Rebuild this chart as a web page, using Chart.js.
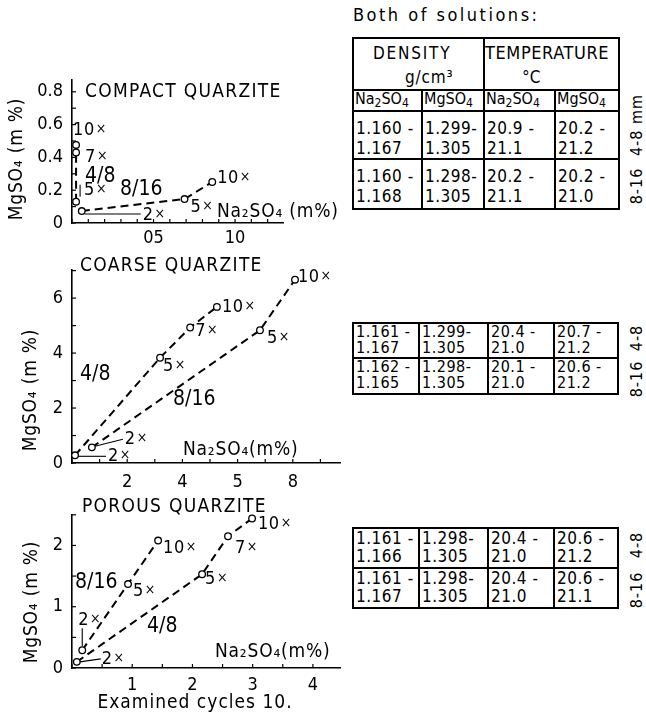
<!DOCTYPE html>
<html><head><meta charset="utf-8">
<script src="https://cdn.jsdelivr.net/npm/chart.js@4.4.1/dist/chart.umd.min.js"></script>
<style>
html,body{margin:0;padding:0;background:#fff;}
#page{position:relative;width:646px;height:724px;overflow:hidden;font-family:'DejaVu Sans Condensed','DejaVu Sans',sans-serif;color:#000;}
canvas{position:absolute;}
.t{position:absolute;white-space:nowrap;font-size:16px;line-height:18px;transform:translateY(-50%);}
.t sub{font-size:0.75em;vertical-align:-0.25em;line-height:0;}
.cell{position:absolute;border:2px solid #000;box-sizing:border-box;}
.rot{position:absolute;white-space:nowrap;font-size:16px;line-height:18px;transform:translate(-50%,-50%) rotate(-90deg);}
</style></head><body><div id="page">
<canvas id="c1"></canvas><canvas id="c2"></canvas><canvas id="c3"></canvas>
</div>
<script>
// ================= DATA =================
// Compact quarzite  (x: Na2SO4 m%, y: MgSO4 m%)
const compactX48 = [0.025, 0.025, 0.025];
const compactY48 = [0.13, 0.43, 0.476];
const compactCycles48 = ['5×', '7×', '10×'];
const compactX816 = [0.06, 0.69, 0.86];
const compactY816 = [0.073, 0.146, 0.25];
const compactCycles816 = ['2×', '5×', '10×'];
const compactXTickVals = [0.5, 1.0];
const compactXTickLabels = ['05', '10'];
const compactYTickVals = [0, 0.2, 0.4, 0.6, 0.8];
const compactYTickLabels = ['0', '0.2', '0.4', '0.6', '0.8'];

// Coarse quarzite
const coarseX48 = [0.11, 3.19, 4.28, 5.25];
const coarseY48 = [0.28, 3.83, 4.93, 5.68];
const coarseCycles48 = ['2×', '5×', '7×', '10×'];
const coarseX816 = [0.72, 6.81, 8.08];
const coarseY816 = [0.57, 4.83, 6.67];
const coarseCycles816 = ['2×', '5×', '10×'];
const coarseXTickVals = [2, 4, 6, 8];
const coarseXTickLabels = ['2', '4', '5', '8'];
const coarseYTickVals = [0, 2, 4, 6];
const coarseYTickLabels = ['0', '2', '4', '6'];

// Porous quarzite
const porousX48 = [0.08, 2.16, 2.59, 2.99];
const porousY48 = [0.10, 1.53, 2.15, 2.44];
const porousCycles48 = ['2×', '5×', '7×', '10×'];
const porousX816 = [0.17, 0.93, 1.43];
const porousY816 = [0.29, 1.37, 2.08];
const porousCycles816 = ['2×', '5×', '10×'];
const porousXTickVals = [1, 2, 3, 4];
const porousXTickLabels = ['1', '2', '3', '4'];
const porousYTickVals = [0, 1, 2];
const porousYTickLabels = ['0', '1', '2'];

// Tables (rows: compact 4-8, compact 8-16, coarse 4-8, coarse 8-16, porous 4-8, porous 8-16)
const densityNa2SO4 = ['1.160-1.167', '1.160-1.168', '1.161-1.167', '1.162-1.165', '1.161-1.166', '1.161-1.167'];
const densityMgSO4  = ['1.299-1.305', '1.298-1.305', '1.299-1.305', '1.298-1.305', '1.298-1.305', '1.298-1.305'];
const tempNa2SO4    = ['20.9-21.1', '20.2-21.1', '20.4-21.0', '20.1-21.0', '20.4-21.0', '20.4-21.0'];
const tempMgSO4     = ['20.2-21.2', '20.2-21.0', '20.7-21.2', '20.6-21.2', '20.6-21.2', '20.6-21.1'];
const fractionLabels = ['4-8 mm', '8-16', '4-8', '8-16', '4-8', '8-16'];

// ================= CHARTS =================
const FAM = '"DejaVu Sans Condensed", "DejaVu Sans", sans-serif';
Chart.defaults.font.family = FAM;
Chart.defaults.color = '#000';

const inwardTicks = {
  id: 'inwardTicks',
  afterDraw(chart, args, opts) {
    const ctx = chart.ctx, a = chart.chartArea;
    ctx.save(); ctx.strokeStyle = '#000'; ctx.lineWidth = 1.2;
    opts.x.forEach(v => { const px = chart.scales.x.getPixelForValue(v);
      ctx.beginPath(); ctx.moveTo(px, a.bottom); ctx.lineTo(px, a.bottom - 4); ctx.stroke(); });
    opts.y.forEach(v => { const py = chart.scales.y.getPixelForValue(v);
      ctx.beginPath(); ctx.moveTo(a.left, py); ctx.lineTo(a.left + 4, py); ctx.stroke(); });
    ctx.restore();
  }
};

const notesPlugin = {
  id: 'notes',
  afterDatasetsDraw(chart, args, opts) {
    const ctx = chart.ctx;
    ctx.save();
    ctx.fillStyle = '#000'; ctx.strokeStyle = '#000'; ctx.textBaseline = 'middle';
    chart.data.datasets.forEach((ds, di) => {
      const meta = chart.getDatasetMeta(di);
      meta.data.forEach((pt, i) => {
        const o = ds.labelOffsets[i];
        const lab = ds.cycleLabels[i];
        const num = lab.replace('×', '');
        ctx.textAlign = 'left'; ctx.letterSpacing = '0.5px';
        ctx.font = '18px ' + FAM;
        const x0 = pt.x + o[0], y0 = pt.y + o[1];
        ctx.fillText(num, x0, y0);
        const w = ctx.measureText(num).width;
        ctx.font = '14px ' + FAM;
        ctx.fillText('×', x0 + w + 1, y0 - 1);
        const L = ds.leaders && ds.leaders[i];
        if (L) { ctx.lineWidth = 1.1; ctx.beginPath(); ctx.moveTo(pt.x + L[0], pt.y + L[1]); ctx.lineTo(pt.x + L[2], pt.y + L[3]); ctx.stroke(); }
      });
    });
    opts.items.forEach(it => {
      ctx.save();
      ctx.font = (it.size || 19) + 'px ' + FAM;
      ctx.letterSpacing = (it.ls == null ? 0.8 : it.ls) + 'px';
      const x = it.x, y = it.y - opts.top;
      if (it.rot) {
        ctx.translate(x, y); ctx.rotate(-Math.PI / 2); ctx.textAlign = 'center'; ctx.fillText(it.t, 0, 0);
      } else {
        ctx.textAlign = it.align || 'left'; ctx.fillText(it.t, x, y);
      }
      ctx.restore();
    });
    ctx.restore();
  }
};

function pick(vals, labels) {
  return v => { const i = vals.findIndex(u => Math.abs(u - v) < 1e-6); return i < 0 ? '' : labels[i]; };
}
function range(a, b, s) { const r = []; for (let v = a; v <= b + 1e-9; v += s) r.push(Math.round(v * 1000) / 1000); return r; }

function makeChart(id, g, sc, sets, notes) {
  const cv = document.getElementById(id);
  cv.width = g.w; cv.height = g.h; cv.style.left = g.left + 'px'; cv.style.top = g.top + 'px';
  return new Chart(cv, {
    type: 'scatter',
    data: { datasets: sets.map(d => ({
      data: d.xs.map((x, i) => ({ x, y: d.ys[i] })),
      showLine: true, borderColor: '#000', borderWidth: 2, borderDash: [8, 5], tension: 0,
      pointRadius: 3.3, pointBackgroundColor: '#fff', pointBorderColor: '#000', pointBorderWidth: 1.3,
      cycleLabels: d.labels, labelOffsets: d.offsets, leaders: d.leaders, clip: false
    })) },
    options: {
      responsive: false, animation: false, devicePixelRatio: 1,
      layout: { padding: { left: 0, top: g.areaTop - g.top, right: g.w - g.areaRight, bottom: 0 } },
      plugins: { legend: { display: false }, tooltip: { enabled: false },
        notes: { items: notes, top: g.top },
        inwardTicks: { x: sc.xMinor, y: sc.yMinor } },
      scales: {
        x: { type: 'linear', min: 0, max: sc.xMax,
          grid: { display: false, drawTicks: false }, border: { display: true, color: '#000', width: 1.6 },
          afterBuildTicks: s => { s.ticks = sc.xMinor.map(v => ({ value: v })); },
          ticks: { padding: sc.xPad, color: '#000', font: { size: 18 }, maxRotation: 0, autoSkip: false,
            callback: pick(sc.xVals, sc.xLabels) },
          afterFit: s => { s.height = g.h - (g.areaBottom - g.top); } },
        y: { type: 'linear', min: 0, max: sc.yMax,
          grid: { display: false, drawTicks: false }, border: { display: true, color: '#000', width: 1.6 },
          afterBuildTicks: s => { s.ticks = sc.yMinor.map(v => ({ value: v })); },
          ticks: { padding: 9, color: '#000', font: { size: 18 }, autoSkip: false,
            callback: pick(sc.yVals, sc.yLabels) },
          afterFit: s => { s.width = 72; } }
      }
    },
    plugins: [inwardTicks, notesPlugin]
  });
}

// Panel 1: compact
makeChart('c1', { left: 0, top: 60, w: 346, h: 200, areaTop: 80, areaBottom: 223, areaRight: 283 },
  { xMax: 1.294, yMax: 0.872, xPad: 4.2, xMinor: range(0, 1.2, 0.1), yMinor: range(0, 0.8, 0.1),
    xVals: compactXTickVals, xLabels: compactXTickLabels, yVals: compactYTickVals, yLabels: compactYTickLabels },
  [
    { xs: compactX48, ys: compactY48, labels: compactCycles48,
      offsets: [[8, -11], [9, 5], [-3, -15]], leaders: [[4, -17, 4, -5], null, null] },
    { xs: compactX816, ys: compactY816, labels: compactCycles816,
      offsets: [[61, 4], [6, 8], [5, -4]], leaders: [[3, 3, 59, 3], null, null] }
  ],
  [
    { t: 'COMPACT QUARZITE', x: 85, y: 92, ls: 1.3 },
    { t: '4/8', x: 85, y: 177, size: 21, ls: 0 },
    { t: '8/16', x: 120, y: 190, size: 21, ls: 0 },
    { t: 'Na₂SO₄ (m%)', x: 217, y: 212 },
    { t: 'MgSO₄ (m %)', x: 17, y: 159, rot: true }
  ]);

// Panel 2: coarse
makeChart('c2', { left: 0, top: 250, w: 346, h: 240, areaTop: 265, areaBottom: 463, areaRight: 340 },
  { xMax: 9.71, yMax: 7.03, xPad: 8.2, xMinor: range(0, 9, 1), yMinor: range(0, 7, 1),
    xVals: coarseXTickVals, xLabels: coarseXTickLabels, yVals: coarseYTickVals, yLabels: coarseYTickLabels },
  [
    { xs: coarseX48, ys: coarseY48, labels: coarseCycles48,
      offsets: [[33, 1], [3, 9], [5, 4], [5, 0]], leaders: [[3, 1, 31, 1], null, null, null] },
    { xs: coarseX816, ys: coarseY816, labels: coarseCycles816,
      offsets: [[33, -8], [7, 8], [3, -2]], leaders: [[3, -1, 31, -8], null, null] }
  ],
  [
    { t: 'COARSE QUARZITE', x: 80, y: 266, ls: 1.3 },
    { t: '4/8', x: 80, y: 375, size: 21, ls: 0 },
    { t: '8/16', x: 173, y: 400, size: 21, ls: 0 },
    { t: 'Na₂SO₄(m%)', x: 183, y: 450 },
    { t: 'MgSO₄ (m %)', x: 31, y: 390, rot: true }
  ]);

// Panel 3: porous
makeChart('c3', { left: 0, top: 495, w: 346, h: 229, areaTop: 513, areaBottom: 668, areaRight: 340 },
  { xMax: 4.45, yMax: 2.5, xPad: 6.2, xMinor: range(0, 4, 0.5), yMinor: range(0, 2.5, 0.5),
    xVals: porousXTickVals, xLabels: porousXTickLabels, yVals: porousYTickVals, yLabels: porousYTickLabels },
  [
    { xs: porousX48, ys: porousY48, labels: porousCycles48,
      offsets: [[25, -3], [3, 5], [7, 12], [6, 6]], leaders: [[3, 0, 24, -3], null, null, null] },
    { xs: porousX816, ys: porousY816, labels: porousCycles816,
      offsets: [[-4, -30], [5, 7], [5, 8]], leaders: [[0, -4, 0, -22], null, null] }
  ],
  [
    { t: 'POROUS QUARZITE', x: 82, y: 507, ls: 1.3 },
    { t: '8/16', x: 75, y: 583, size: 21, ls: 0 },
    { t: '4/8', x: 147, y: 627, size: 21, ls: 0 },
    { t: 'Na₂SO₄(m%)', x: 215, y: 652 },
    { t: 'MgSO₄ (m %)', x: 32, y: 602, rot: true },
    { t: 'Examined cycles 10.', x: 195, y: 703, align: 'center', ls: 1 }
  ]);

// ================= TABLES =================
const page = document.getElementById('page');
function box(x, y, w, h) {
  const d = document.createElement('div'); d.className = 'cell';
  Object.assign(d.style, { left: x + 'px', top: y + 'px', width: (w + 2) + 'px', height: (h + 2) + 'px' });
  page.appendChild(d);
}
function text(t, x, y, ls, size, html) {
  const d = document.createElement('div'); d.className = 't';
  if (html) d.innerHTML = t; else d.textContent = t;
  Object.assign(d.style, { left: x + 'px', top: y + 'px', letterSpacing: (ls || 0) + 'px' });
  if (size) d.style.fontSize = size + 'px';
  page.appendChild(d);
}
function rtext(t, x, y) {
  const d = document.createElement('div'); d.className = 'rot'; d.textContent = t;
  Object.assign(d.style, { left: x + 'px', top: y + 'px', letterSpacing: '1px' });
  page.appendChild(d);
}

text('Both of solutions:', 353, 15, 2.5, 18);
// header
box(352, 37, 131, 52); box(483, 37, 135, 52);
text('DENSITY', 373, 53, 1.8, 17); text('g/cm³', 405, 77, 0.8, 17);
text('TEMPERATURE', 485, 53, 0.6, 18); text('°C', 522, 77, 0, 17);
const c1 = [352, 421, 483, 554, 618];
for (let i = 0; i < 4; i++) box(c1[i], 89, c1[i + 1] - c1[i], 21);
['Na<sub>2</sub>SO<sub>4</sub>', 'MgSO<sub>4</sub>', 'Na<sub>2</sub>SO<sub>4</sub>', 'MgSO<sub>4</sub>']
  .forEach((t, i) => text(t, c1[i] + 3, 99, 0, 16, true));

const tables = [
  { cols: c1, rows: [110, 158, 208], lines: [18, 38], rotY: [125, 186] },
  { cols: [352, 418, 487, 553, 617], rows: [322, 357, 393], lines: [10, 26], rotY: [338, 379] },
  { cols: [352, 418, 487, 553, 617], rows: [527, 567, 607], lines: [11, 29], rotY: [545, 590] }
];
const columns = [densityNa2SO4, densityMgSO4, tempNa2SO4, tempMgSO4];
tables.forEach((tb, ti) => {
  for (let r = 0; r < 2; r++) {
    const idx = ti * 2 + r;
    const y0 = tb.rows[r], h = tb.rows[r + 1] - y0;
    for (let c = 0; c < 4; c++) {
      box(tb.cols[c], y0, tb.cols[c + 1] - tb.cols[c], h);
      const [lo, hi] = columns[c][idx].split('-');
      const fs = ti === 1 ? 16 : 17;
      text(lo + (c === 1 ? '-' : ' -'), tb.cols[c] + 4, y0 + tb.lines[0], 0.5, fs);
      text(hi, tb.cols[c] + 4, y0 + tb.lines[1], 0.5, fs);
    }
    rtext(fractionLabels[idx], 637, tb.rotY[r]);
  }
});
</script>
</body></html>
